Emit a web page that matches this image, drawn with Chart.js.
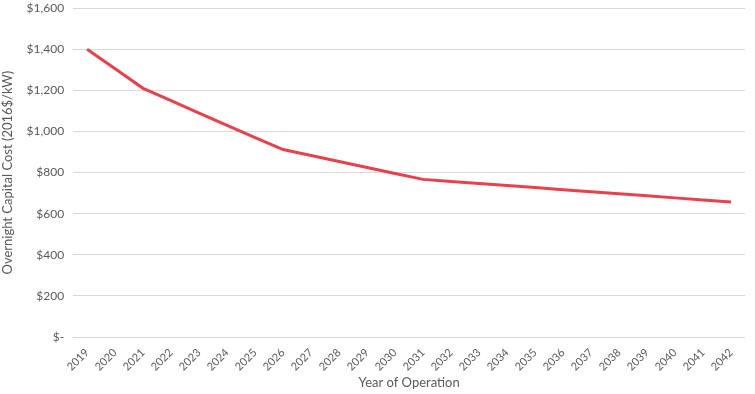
<!DOCTYPE html>
<html>
<head>
<meta charset="utf-8">
<script src="https://cdn.jsdelivr.net/npm/chart.js@4"></script>
<style>
  html, body { margin: 0; padding: 0; background: #fff; overflow: hidden; }
  #wrap { width: 755px; height: 402px; margin-top: -8px; }
</style>
</head>
<body>
<div id="wrap"><canvas id="costChart"></canvas></div>
<script>
// Custo de capital por ano de operação
const years = ['2019', '2020', '2021', '2022', '2023', '2024', '2025', '2026', '2027', '2028', '2029', '2030',
    '2031', '2032', '2033', '2034', '2035', '2036', '2037', '2038', '2039', '2040', '2041', '2042'];
const capitalCost = [1400, 1305, 1210, 1150, 1090, 1030, 970, 912, 883, 854, 825, 796,
    767, 757, 747, 737, 727, 717, 707, 697, 687, 677, 667, 657];
const yTicks = [0, 200, 400, 600, 800, 1000, 1200, 1400, 1600];

const gray = '#595959';
Chart.defaults.font.family = 'Lato, "Open Sans", sans-serif';
Chart.defaults.color = gray;

const ctx = document.getElementById('costChart').getContext('2d');
const costChart = new Chart(ctx, {
    type: 'line',
    data: {
        labels: years,
        datasets: [{
            label: 'Overnight Capital Cost',
            data: capitalCost,
            borderColor: '#E8414C',
            borderWidth: 3,
            pointRadius: 0,
            tension: 0,
            fill: false
        }]
    },
    options: {
        responsive: true,
        maintainAspectRatio: false,
        animation: false,
        layout: { padding: { top: 0, right: 10, bottom: 0, left: 0 } },
        plugins: {
            legend: { display: false },
            tooltip: { enabled: false }
        },
        scales: {
            x: {
                offset: true,
                afterFit: axis => { axis.height = 57; },
                grid: { display: false },
                border: { display: false },
                ticks: { maxRotation: 45, minRotation: 45, autoSkip: false, font: { size: 11 }, padding: 1 },
                title: { display: true, text: 'Year of Operation', font: { size: 13 }, padding: { top: 2, bottom: 3 } }
            },
            y: {
                min: 0,
                max: 1600,
                afterBuildTicks: axis => { axis.ticks = yTicks.map(v => ({ value: v })); },
                grid: { color: '#d9d9d9', drawTicks: false },
                border: { display: false },
                ticks: {
                    font: { size: 12 },
                    padding: 9,
                    callback: v => v === 0 ? '$-' : '$' + v.toLocaleString('en-US')
                },
                title: { display: true, text: 'Overnight Capital Cost (2016$/kW)', font: { size: 13 }, padding: { top: 0, bottom: 2 } }
            }
        }
    }
});
</script>
</body>
</html>
